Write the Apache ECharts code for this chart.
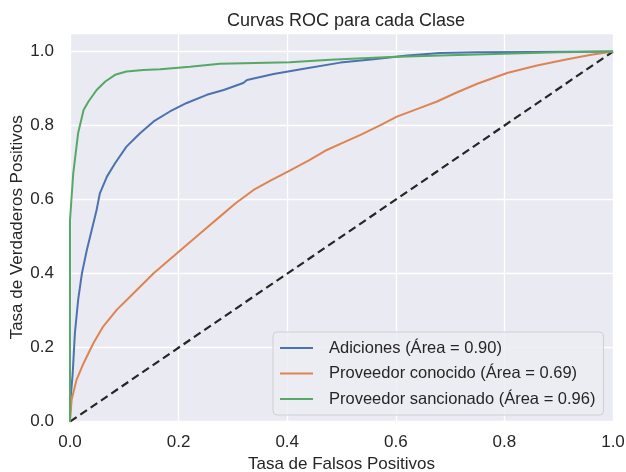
<!DOCTYPE html>
<html>
<head>
<meta charset="utf-8">
<script src="https://cdn.jsdelivr.net/npm/echarts@6/dist/echarts.min.js"></script>
<style>
html,body{margin:0;padding:0;background:#fff;}
#c{width:626px;height:472px;}
</style>
</head>
<body>
<div id="c"></div>
<script>
var titleText = 'Curvas ROC para cada Clase';
var xName = 'Tasa de Falsos Positivos';
var yName = 'Tasa de Verdaderos Positivos';
var seriesNames = ['Adiciones (Área = 0.90)', 'Proveedor conocido (Área = 0.69)', 'Proveedor sancionado (Área = 0.96)'];
var tickValues = [0, 0.2, 0.4, 0.6, 0.8, 1.0];

var fprAdiciones = [0, 0, 0.001, 0.005, 0.009, 0.015, 0.022, 0.031, 0.040, 0.049, 0.055, 0.068, 0.083, 0.104, 0.129, 0.154, 0.184, 0.215, 0.252, 0.283, 0.319, 0.326, 0.375, 0.436, 0.498, 0.559, 0.621, 0.682, 0.75, 0.85, 1.0];
var tprAdiciones = [0, 0.01, 0.06, 0.131, 0.239, 0.329, 0.401, 0.464, 0.518, 0.572, 0.617, 0.662, 0.698, 0.743, 0.779, 0.811, 0.838, 0.861, 0.883, 0.896, 0.915, 0.923, 0.939, 0.955, 0.970, 0.979, 0.989, 0.996, 0.998, 0.999, 1.0];

var fprConocido = [0, 0.003, 0.012, 0.025, 0.043, 0.061, 0.086, 0.117, 0.154, 0.197, 0.24, 0.276, 0.305, 0.338, 0.37, 0.402, 0.44, 0.473, 0.505, 0.535, 0.57, 0.602, 0.64, 0.676, 0.71, 0.75, 0.805, 0.86, 0.916, 0.96, 1.0];
var tprConocido = [0, 0.059, 0.113, 0.158, 0.212, 0.257, 0.302, 0.347, 0.401, 0.455, 0.509, 0.554, 0.59, 0.626, 0.652, 0.676, 0.706, 0.734, 0.755, 0.775, 0.8, 0.824, 0.845, 0.865, 0.888, 0.913, 0.942, 0.962, 0.979, 0.991, 1.0];

var fprSancionado = [0, 0, 0.006, 0.015, 0.025, 0.034, 0.049, 0.065, 0.083, 0.104, 0.135, 0.166, 0.221, 0.276, 0.405, 0.479, 0.59, 0.682, 0.798, 0.9, 1.0];
var tprSancionado = [0, 0.545, 0.671, 0.78, 0.842, 0.865, 0.896, 0.919, 0.937, 0.946, 0.950, 0.952, 0.959, 0.967, 0.971, 0.978, 0.985, 0.989, 0.994, 0.998, 1.0];

var diagX = [0, 1];
var diagY = [0, 1];

function zip(a, b) { return a.map(function (v, i) { return [v, b[i]]; }); }

var font = '"Liberation Sans", Arial, sans-serif';
var textColor = '#262626';
var colors = ['#4C72B0', '#DD8452', '#55A868'];

var chart = echarts.init(document.getElementById('c'), null, {renderer: 'canvas'});
chart.setOption({
  animation: false,
  title: {
    text: titleText, left: 341, top: 7, textAlign: 'center',
    textStyle: {fontFamily: font, fontSize: 18, fontWeight: 'normal', color: textColor}
  },
  grid: {
    left: 70, right: 13, top: 33, bottom: 50.3,
    containLabel: false, outerBoundsMode: 'none',
    show: true, backgroundColor: '#EAEAF2', borderWidth: 0
  },
  xAxis: {
    type: 'value', min: 0, max: 1, interval: 0.2,
    name: xName, nameLocation: 'middle', nameGap: 34, nameMoveOverlap: false,
    nameTextStyle: {fontFamily: font, fontSize: 17, color: textColor},
    axisLine: {show: false}, axisTick: {show: false},
    axisLabel: {fontFamily: font, fontSize: 17, color: textColor, margin: 12,
      formatter: function (v) { return v.toFixed(1); }},
    splitLine: {show: true, lineStyle: {color: '#ffffff', width: 1.3}}
  },
  yAxis: {
    type: 'value', min: 0, max: 1.05, interval: 0.2,
    name: yName, nameLocation: 'middle', nameGap: 44, nameRotate: 90, nameMoveOverlap: false,
    nameTextStyle: {fontFamily: font, fontSize: 17, color: textColor},
    axisLine: {show: false}, axisTick: {show: false},
    axisLabel: {fontFamily: font, fontSize: 17, color: textColor, margin: 16,
      formatter: function (v) {
        var ok = tickValues.some(function (t) { return Math.abs(t - v) < 1e-6; });
        return ok ? v.toFixed(1) : '';
      }},
    splitLine: {show: true, lineStyle: {color: '#ffffff', width: 1.3}}
  },
  legend: {
    orient: 'vertical', left: 273, top: 332,
    data: seriesNames,
    icon: 'rect', itemWidth: 33, itemHeight: 2, itemGap: 7.5,
    padding: [7, 8, 7, 7],
    backgroundColor: 'rgba(236,236,243,0.85)',
    borderColor: '#CFCFD4', borderWidth: 1, borderRadius: 4,
    textStyle: {fontFamily: font, fontSize: 16.5, color: textColor, lineHeight: 18, padding: [0, 0, 0, 11]}
  },
  series: [
    {name: seriesNames[0], type: 'line', data: zip(fprAdiciones, tprAdiciones), showSymbol: false, symbol: 'none',
     lineStyle: {color: colors[0], width: 2}, itemStyle: {color: colors[0]}, z: 3},
    {name: seriesNames[1], type: 'line', data: zip(fprConocido, tprConocido), showSymbol: false, symbol: 'none',
     lineStyle: {color: colors[1], width: 2}, itemStyle: {color: colors[1]}, z: 3},
    {name: seriesNames[2], type: 'line', data: zip(fprSancionado, tprSancionado), showSymbol: false, symbol: 'none',
     lineStyle: {color: colors[2], width: 2}, itemStyle: {color: colors[2]}, z: 3},
    {name: 'diag', type: 'line', data: zip(diagX, diagY), showSymbol: false, symbol: 'none',
     lineStyle: {color: '#262626', width: 2.2, type: [8, 4.5]}, z: 2}
  ]
});
</script>
</body>
</html>
